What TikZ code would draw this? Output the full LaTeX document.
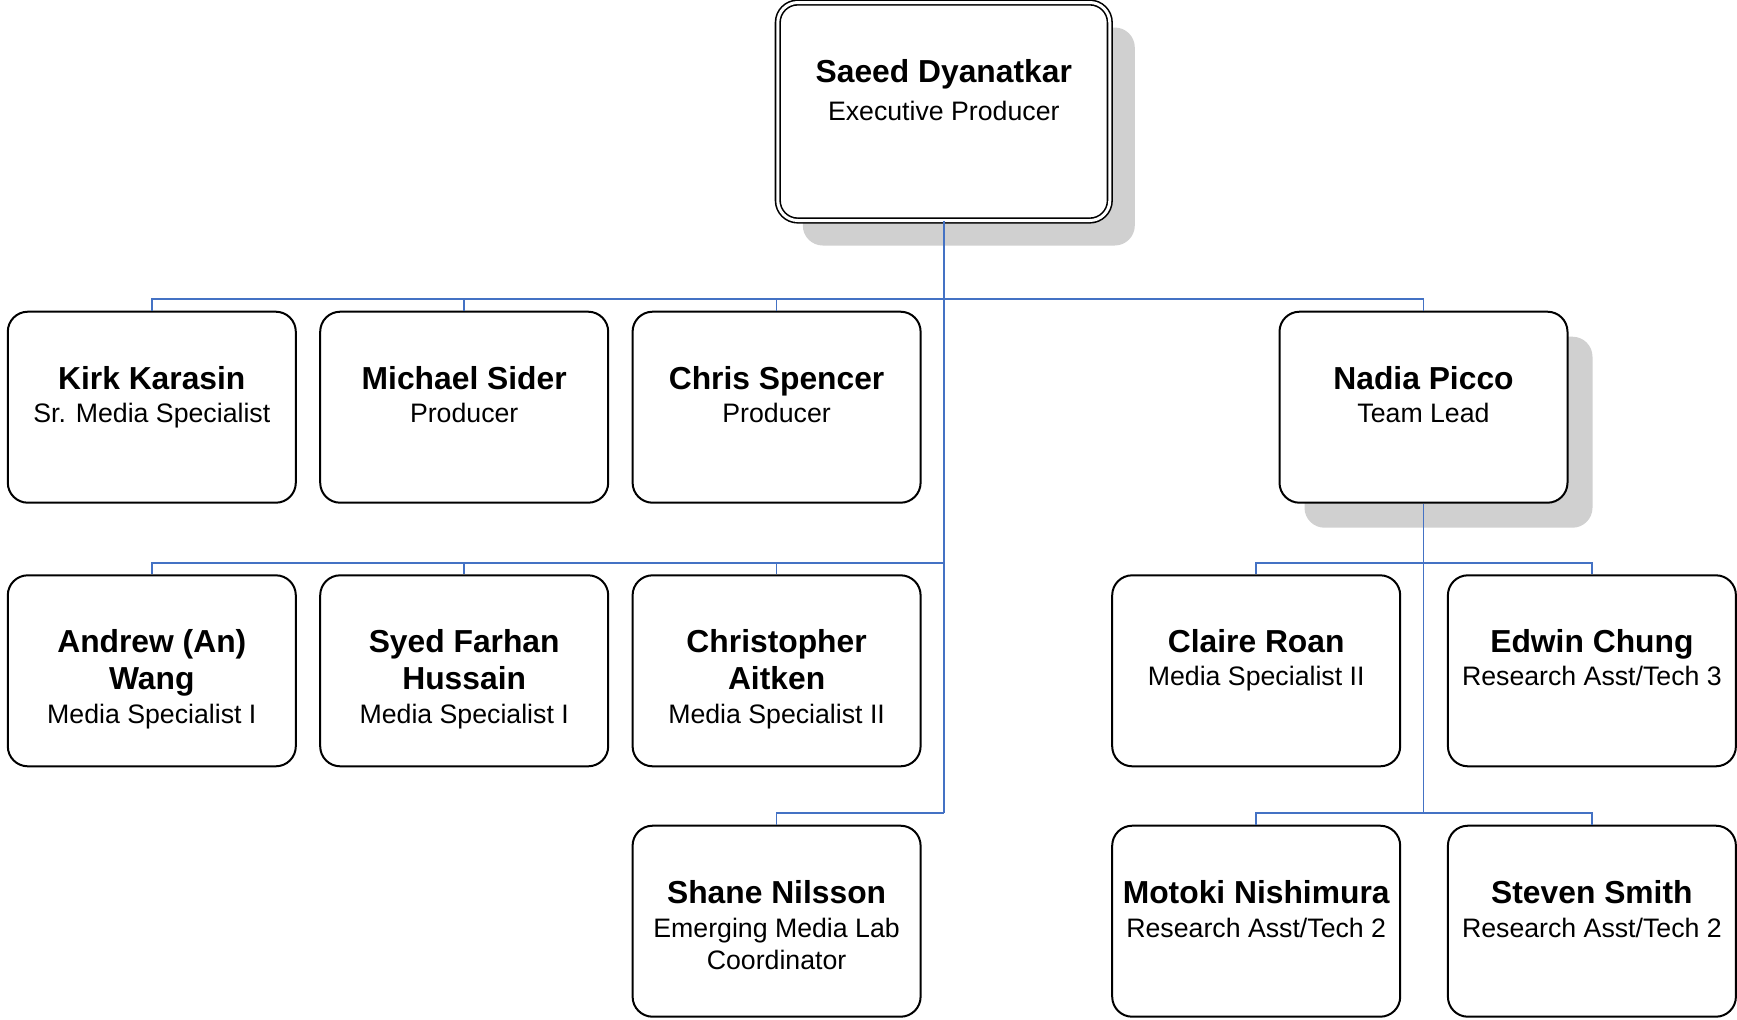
\documentclass[tikz,border=0pt]{standalone}
\usepackage{fontspec}
\setmainfont{Liberation Sans}
\usepackage{tikz}
\usetikzlibrary{positioning,shadows}

\definecolor{orgblue}{RGB}{68,114,196}
\definecolor{shadowgray}{RGB}{208,208,208}
\newcommand{\nm}[1]{{\fontsize{15.9}{18}\selectfont\bfseries #1}}

\begin{document}
\begin{tikzpicture}[x=0.5pt,y=0.5pt]
\tikzstyle{every node}+=[inner sep=0pt]
\tikzstyle{box}=[draw=black, line width=1pt, rounded corners=10pt, fill=white, minimum width=144pt, minimum height=95.5pt]
\tikzstyle{shade}=[drop shadow={shadow xshift=12.5pt, shadow yshift=-12.5pt, fill=shadowgray, opacity=1}]
\tikzstyle{txt}=[align=center, font=\fontsize{13.35}{17}\selectfont]
\tikzstyle{conn}=[orgblue, line width=0.85pt]
\useasboundingbox (0,0) rectangle (1737,-1019);
% top
\node [box, shade, double, double distance=1.5pt, line width=0.8pt, minimum width=166pt, minimum height=109pt] (saeed) at (943.8,-111.5) {};
\node [txt, below=28.9pt of saeed.north] (saeed-t) {\nm{Saeed Dyanatkar}\\[2pt]Executive Producer};
% first row
\node [box] (kirk) at (151.8,-407.2) {};
\node [txt, below=27.5pt of kirk.north] (kirk-t) {\nm{Kirk Karasin}\\[-0.5pt]Sr. Media Specialist};
\node [box] (michael) at (464.2,-407.2) {};
\node [txt, below=27.5pt of michael.north] (michael-t) {\nm{Michael Sider}\\[-0.5pt]Producer};
\node [box] (chris) at (776.6,-407.2) {};
\node [txt, below=27.5pt of chris.north] (chris-t) {\nm{Chris Spencer}\\[-0.5pt]Producer};
\node [box, shade] (nadia) at (1423.5,-407.2) {};
\node [txt, below=27.5pt of nadia.north] (nadia-t) {\nm{Nadia Picco}\\[-0.5pt]Team Lead};
% second row
\node [box] (andrew) at (151.8,-670.8) {};
\node [txt, below=27.5pt of andrew.north] (andrew-t) {\nm{Andrew (An)}\\[1.3pt]\nm{Wang}\\Media Specialist I};
\node [box] (syed) at (464.2,-670.8) {};
\node [txt, below=27.5pt of syed.north] (syed-t) {\nm{Syed Farhan}\\[1.3pt]\nm{Hussain}\\Media Specialist I};
\node [box] (christopher) at (776.6,-670.8) {};
\node [txt, below=27.5pt of christopher.north] (christopher-t) {\nm{Christopher}\\[1.3pt]\nm{Aitken}\\Media Specialist II};
\node [box] (claire) at (1256.2,-670.8) {};
\node [txt, below=27.5pt of claire.north] (claire-t) {\nm{Claire Roan}\\[-0.5pt]Media Specialist II};
\node [box] (edwin) at (1591.9,-670.8) {};
\node [txt, below=27.5pt of edwin.north] (edwin-t) {\nm{Edwin Chung}\\[-0.5pt]Research Asst/Tech 3};
% third row
\node [box] (shane) at (776.6,-921.2) {};
\node [txt, below=27.5pt of shane.north] (shane-t) {\nm{Shane Nilsson}\\Emerging Media Lab\\[-1pt]Coordinator};
\node [box] (motoki) at (1256.2,-921.2) {};
\node [txt, below=27.5pt of motoki.north] (motoki-t) {\nm{Motoki Nishimura}\\Research Asst/Tech 2};
\node [box] (steven) at (1591.9,-921.2) {};
\node [txt, below=27.5pt of steven.north] (steven-t) {\nm{Steven Smith}\\Research Asst/Tech 2};
% connectors
\coordinate (j1) at (943.8,-299);
\coordinate (j2) at (943.8,-562.8);
\coordinate (j3) at (943.8,-813);
\coordinate (k2) at (1423.5,-562.8);
\coordinate (k3) at (1423.5,-813);
\draw [conn] (saeed.south) -- (j3);
\draw [conn] (j1) -| (kirk.north);
\draw [conn] (j1) -| (michael.north);
\draw [conn] (j1) -| (chris.north);
\draw [conn] (j1) -| (nadia.north);
\draw [conn] (j2) -| (andrew.north);
\draw [conn] (j2) -| (syed.north);
\draw [conn] (j2) -| (christopher.north);
\draw [conn] (j3) -| (shane.north);
\draw [conn] (nadia.south) -- (k3);
\draw [conn] (k2) -| (claire.north);
\draw [conn] (k2) -| (edwin.north);
\draw [conn] (k3) -| (motoki.north);
\draw [conn] (k3) -| (steven.north);
\end{tikzpicture}
\end{document}
